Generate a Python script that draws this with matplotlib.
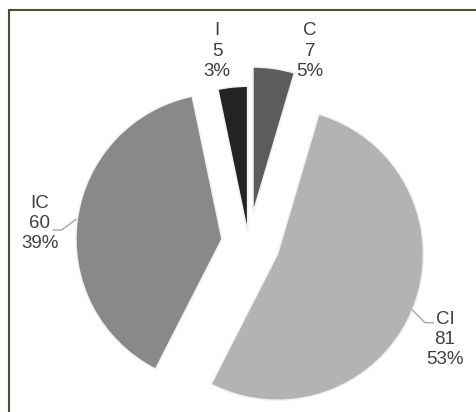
import matplotlib
matplotlib.use("Agg")
import matplotlib.pyplot as plt

# Data
categories = ["C", "CI", "IC", "I"]
counts = [7, 81, 60, 5]
percent_labels = ["5%", "53%", "39%", "3%"]

# Styling
colors = ["#5c5c5c", "#b3b3b3", "#898989", "#232323"]
explode = [30, 31, 27, 10.5]
text_color = "#404040"
leader_color = "#a6a6a6"

W, H = 477, 412
fig = plt.figure(figsize=(W / 100, H / 100), dpi=100)
ax = fig.add_axes([0, 0, 1, 1])

ax.pie(counts, explode=explode, colors=colors, startangle=90,
       counterclock=False, radius=146, center=(248.7, 169.3),
       wedgeprops=dict(edgecolor="#f2f2f2", linewidth=1.1))

ax.set_xlim(0, W)
ax.set_ylim(0, H)
ax.set_aspect("auto")
ax.axis("off")

# Data labels: category, value, percentage
label_pos = {"C": (310, 361), "CI": (445, 72.5), "IC": (40, 188.5), "I": (217, 361)}
for cat, val, pct in zip(categories, counts, percent_labels):
    x, y = label_pos[cat]
    ax.text(x, y, f"{cat}\n{val}\n{pct}", ha="center", va="center",
            fontsize=13.5, family="Liberation Sans", color=text_color,
            linespacing=1.24)

# Leader lines
ax.plot([53.3, 61.7, 76], [182, 182, 192.7], color=leader_color, lw=1)
ax.plot([412.3, 425, 433.3], [102, 89.3, 89.3], color=leader_color, lw=1)

# Frame edges (top and left)
ax.plot([9, W], [402, 402], color="#524e36", lw=1.5, solid_capstyle="butt")
ax.plot([9, 9], [0, 402.7], color="#524e36", lw=1.5, solid_capstyle="butt")

fig.savefig("out.png", dpi=100, facecolor="white")
